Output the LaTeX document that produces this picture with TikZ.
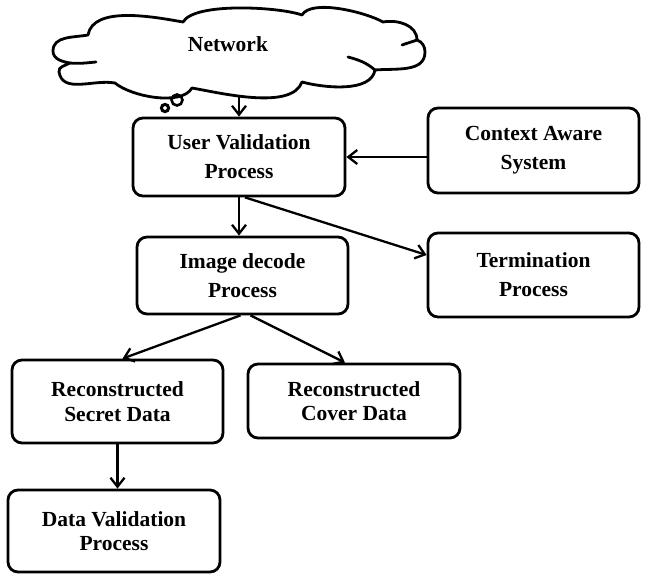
\documentclass[tikz,border=0pt]{standalone}
\usepackage{fontspec}
\setmainfont{Liberation Serif}
\usetikzlibrary{arrows.meta}

\begin{document}
\begin{tikzpicture}[x=1pt,y=1pt,
  box/.style={draw, line width=2.8pt, rounded corners=10pt, align=center,
    inner sep=0pt, font=\bfseries\fontsize{21.5}{29}\selectfont},
  tight/.style={font=\bfseries\fontsize{21.5}{24.5}\selectfont},
  arr/.style={line width=2.3pt, -{Straight Barb[length=9pt,width=14pt]}},
  cloudline/.style={line width=2.8pt, line join=round, line cap=round}]
\useasboundingbox (0,0) rectangle (646,-581);

% cloud outline
\draw[cloudline] (88,-35)
  to[out=80,in=170,looseness=.8] (183,-22)
  to[out=60,in=160,looseness=.5] (302,-15)
  to[out=60,in=150,looseness=.6] (383,-22)
  to[out=10,in=90] (417,-40)
  to[out=-20,in=90] (425,-52)
  to[out=-90,in=5] (375,-70)
  to[out=-100,in=-15,looseness=.8] (302,-82)
  to[out=-110,in=-10,looseness=.7] (192,-88)
  to[out=-120,in=-40,looseness=.7] (115,-83)
  to[out=170,in=-80] (59,-72)
  to[out=100,in=210] (70,-63)
  to[out=170,in=-90] (53,-51)
  to[out=90,in=-170] cycle;
% inner folds of the cloud
\draw[cloudline] (70,-63) to[out=-5,in=185] (96,-62);
\draw[cloudline] (417,-40) to[out=-160,in=20] (402,-45);
\draw[cloudline] (375,-70) to[out=140,in=-15] (348,-57);
% thought bubbles
\draw[line width=2.6pt] (177,-100) circle (5.5);
\draw[line width=3pt] (165,-108) circle (3.6);

\node[font=\bfseries\fontsize{21.5}{29}\selectfont] (net) at (228,-44) {Network};
\coordinate (netbot) at (239,-97);

% process boxes
\node[box, minimum width=212pt, minimum height=78pt] (uv) at (239,-157) {User Validation\\Process};
\node[box, minimum width=211pt, minimum height=85pt] (ca) at (533.5,-150.5) {Context Aware\\System};
\node[box, minimum width=211pt, minimum height=77pt] (id) at (242.5,-275.5) {Image decode\\Process};
\node[box, minimum width=211pt, minimum height=84pt] (tp) at (533.5,-275) {Termination\\Process};
\node[box, tight, minimum width=211pt, minimum height=83pt] (rs) at (117.5,-401.5) {Reconstructed\\Secret Data};
\node[box, tight, minimum width=212pt, minimum height=74pt] (rc) at (354,-401) {Reconstructed\\Cover Data};
\node[box, tight, minimum width=212pt, minimum height=82pt] (dv) at (114,-531) {Data Validation\\Process};

% connectors
\draw[arr] (netbot) -- (netbot |- uv.north);
\draw[arr] (ca.west |- uv.east) -- (uv.east);
\draw[arr] (uv.south) -- (uv.south |- id.north);
\draw[arr] ([xshift=6pt]uv.south) -- ([yshift=20pt]tp.west);
\draw[arr] ([xshift=-2pt]id.south) -- ([xshift=5pt]rs.north);
\draw[arr] ([xshift=8pt]id.south) -- ([xshift=-9pt]rc.north);
\draw[arr] (rs.south) -- (rs.south |- dv.north);
\end{tikzpicture}
\end{document}
